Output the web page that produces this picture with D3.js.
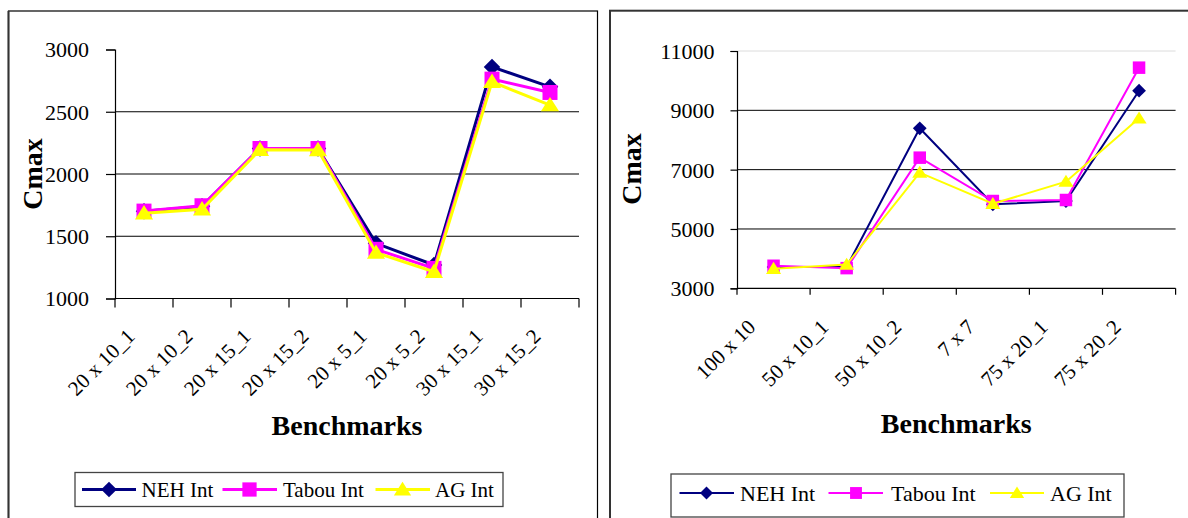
<!DOCTYPE html>
<html><head><meta charset="utf-8">
<script src="https://cdn.jsdelivr.net/npm/d3@7"></script>
<style>
html,body{margin:0;padding:0;background:#fff;}
svg{display:block;}
svg text{font-family:"Liberation Serif","Times New Roman",serif !important;fill:#000;}
</style></head>
<body>
<svg id="chart" width="1188" height="518"></svg>
<script>
// ---------- data ----------
const seriesNames = ["NEH Int", "Tabou Int", "AG Int"];
const seriesColors = ["#000080", "#FF00FF", "#FFFF00"];

const leftCategories = ["20 x 10_1","20 x 10_2","20 x 15_1","20 x 15_2","20 x 5_1","20 x 5_2","30 x 15_1","30 x 15_2"];
const leftNEH   = [1700, 1740, 2205, 2205, 1443, 1269, 2860, 2700];
const leftTabou = [1702, 1745, 2205, 2205, 1395, 1242, 2762, 2655];
const leftAG    = [1684, 1716, 2195, 2192, 1368, 1215, 2740, 2553];
const leftTicks = [1000, 1500, 2000, 2500, 3000];

const rightCategories = ["100 x 10","50 x 10_1","50 x 10_2","7 x 7","75 x 20_1","75 x 20_2"];
const rightNEH   = [3720, 3720, 8394, 5832, 5943, 9662];
const rightTabou = [3760, 3680, 7404, 5943, 5977, 10438];
const rightAG    = [3660, 3800, 6898, 5850, 6594, 8731];
const rightTicks = [3000, 5000, 7000, 9000, 11000];

const yLabel = "Cmax";
const xLabel = "Benchmarks";

// ---------- layout ----------
const svg = d3.select("#chart");
svg.append("rect").attr("width",1188).attr("height",518).attr("fill","#fff");

const panels = [
  {cats:leftCategories, series:[leftNEH,leftTabou,leftAG], ticks:leftTicks,
   frame:{x:8.5,y:11,w:589,h:530, stroke:"#000", sw:1.2, lsw:2},
   px0:115, px1:579, py0:49.5, py1:298.5, topGrid:null,
   lineW:3, mSize:15, tickLen:9, lblDx:-8, lblDy:39,
   cmaxX:42, cmaxY:174, benchY:435,
   legend:{x:75, y:472.5, w:428, h:34, items:[[82,136,109,141.5],[222.5,277,249.5,283],[375.5,430,402.5,435]], ty:489.5, fs:21, mScale:0.95}},
  {cats:rightCategories, series:[rightNEH,rightTabou,rightAG], ticks:rightTicks,
   frame:{x:610,y:10.7,w:600,h:530, stroke:"#333", sw:2, lsw:2},
   px0:737, px1:1175.6, py0:51, py1:288.3, topGrid:"#dcdcdc",
   lineW:2, mSize:12.5, tickLen:6.5, lblDx:-17, lblDy:40,
   cmaxX:641, cmaxY:169, benchY:433,
   legend:{x:671, y:474, w:453, h:43, items:[[679.5,734,706.5,740],[828.5,883,856,891],[990,1044,1017,1050]], ty:493, fs:22, mScale:0.95}}
];

function markerPath(i, s){
  if(i===0){ const h=s*0.55; return `M0,${-h}L${h},0L0,${h}L${-h},0Z`; }
  if(i===1){ const h=s/2; return `M${-h},${-h}H${h}V${h}H${-h}Z`; }
  const h=s*0.55; return `M0,${-h}L${h*1.1},${h*0.75}L${-h*1.1},${h*0.75}Z`;
}

panels.forEach(p => {
  const g = svg.append("g");
  // frame
  g.append("rect").attr("x",p.frame.x).attr("y",p.frame.y).attr("width",p.frame.w).attr("height",p.frame.h)
    .attr("fill","none").attr("stroke",p.frame.stroke).attr("stroke-width",p.frame.sw);
  g.append("line").attr("x1",p.frame.x).attr("x2",p.frame.x).attr("y1",p.frame.y).attr("y2",530)
    .attr("stroke","#333").attr("stroke-width",p.frame.lsw);

  const x = d3.scaleBand().domain(p.cats).range([p.px0,p.px1]).padding(0);
  const ext = d3.extent(p.ticks);
  const y = d3.scaleLinear().domain(ext).range([p.py1,p.py0]);

  // gridlines
  p.ticks.forEach(t => {
    if(t===ext[0]) return;
    let col = "#000";
    if(t===ext[1]) { if(!p.topGrid) return; col = p.topGrid; }
    g.append("line").attr("x1",p.px0).attr("x2",p.px1).attr("y1",y(t)).attr("y2",y(t))
      .attr("stroke",col).attr("stroke-width",1);
  });

  // y axis
  const ya = g.append("g").attr("transform",`translate(${p.px0},0)`)
    .call(d3.axisLeft(y).tickValues(p.ticks).tickSize(p.tickLen).tickPadding(p.px0===115?17:16).tickFormat(d3.format("d")));
  ya.attr("font-family",null);
  ya.select(".domain").attr("stroke","#000").attr("stroke-width",1.2);
  ya.selectAll(".tick line").attr("stroke","#000").attr("stroke-width",1.2);
  ya.selectAll(".tick text").attr("font-size",22).attr("dy","0.34em");

  // x axis line + boundary ticks
  g.append("line").attr("x1",p.px0).attr("x2",p.px1).attr("y1",p.py1).attr("y2",p.py1)
    .attr("stroke","#000").attr("stroke-width",1.2);
  const bounds = p.cats.map(c => x(c)).concat([x(p.cats[p.cats.length-1]) + x.bandwidth()]);
  g.selectAll(".xt").data(bounds).enter().append("line")
    .attr("x1",d=>d).attr("x2",d=>d).attr("y1",p.py1).attr("y2",p.py1+p.tickLen)
    .attr("stroke","#000").attr("stroke-width",1.2);
  // x labels
  g.selectAll(".xl").data(p.cats).enter().append("text")
    .attr("transform",d=>`translate(${x(d)+x.bandwidth()/2+p.lblDx},${p.py1+p.lblDy}) rotate(-45)`)
    .attr("text-anchor","end").attr("font-size",21).text(d=>d);

  // axis titles
  g.append("text").attr("transform",`translate(${p.cmaxX},${p.cmaxY}) rotate(-90)`)
    .attr("text-anchor","middle").attr("font-size",28).attr("font-weight","bold").text(yLabel);
  g.append("text").attr("x",(p.px0+p.px1)/2).attr("y",p.benchY)
    .attr("text-anchor","middle").attr("font-size",28).attr("font-weight","bold").text(xLabel);

  // series
  const line = d3.line().x((d,i)=>x(p.cats[i])+x.bandwidth()/2).y(d=>y(d));
  p.series.forEach((vals,si) => {
    g.append("path").attr("d",line(vals)).attr("fill","none")
      .attr("stroke",seriesColors[si]).attr("stroke-width",p.lineW).attr("stroke-linejoin","miter");
    g.selectAll(null).data(vals).enter().append("path")
      .attr("d",markerPath(si,p.mSize))
      .attr("transform",(d,i)=>`translate(${x(p.cats[i])+x.bandwidth()/2},${y(d)})`)
      .attr("fill",seriesColors[si]);
  });

  // legend
  const L = p.legend;
  g.append("rect").attr("x",L.x).attr("y",L.y).attr("width",L.w).attr("height",L.h)
    .attr("fill","#fff").attr("stroke","#444").attr("stroke-width",1.3);
  seriesNames.forEach((nm,si) => {
    const it = L.items[si];
    g.append("line").attr("x1",it[0]).attr("x2",it[1]).attr("y1",L.ty).attr("y2",L.ty)
      .attr("stroke",seriesColors[si]).attr("stroke-width",p.lineW);
    g.append("path").attr("d",markerPath(si,p.mSize*L.mScale))
      .attr("transform",`translate(${it[2]},${L.ty})`).attr("fill",seriesColors[si]);
    g.append("text").attr("x",it[3]).attr("y",L.ty).attr("dy","0.35em")
      .attr("font-size",L.fs).text(nm);
  });
});
</script>
</body></html>
